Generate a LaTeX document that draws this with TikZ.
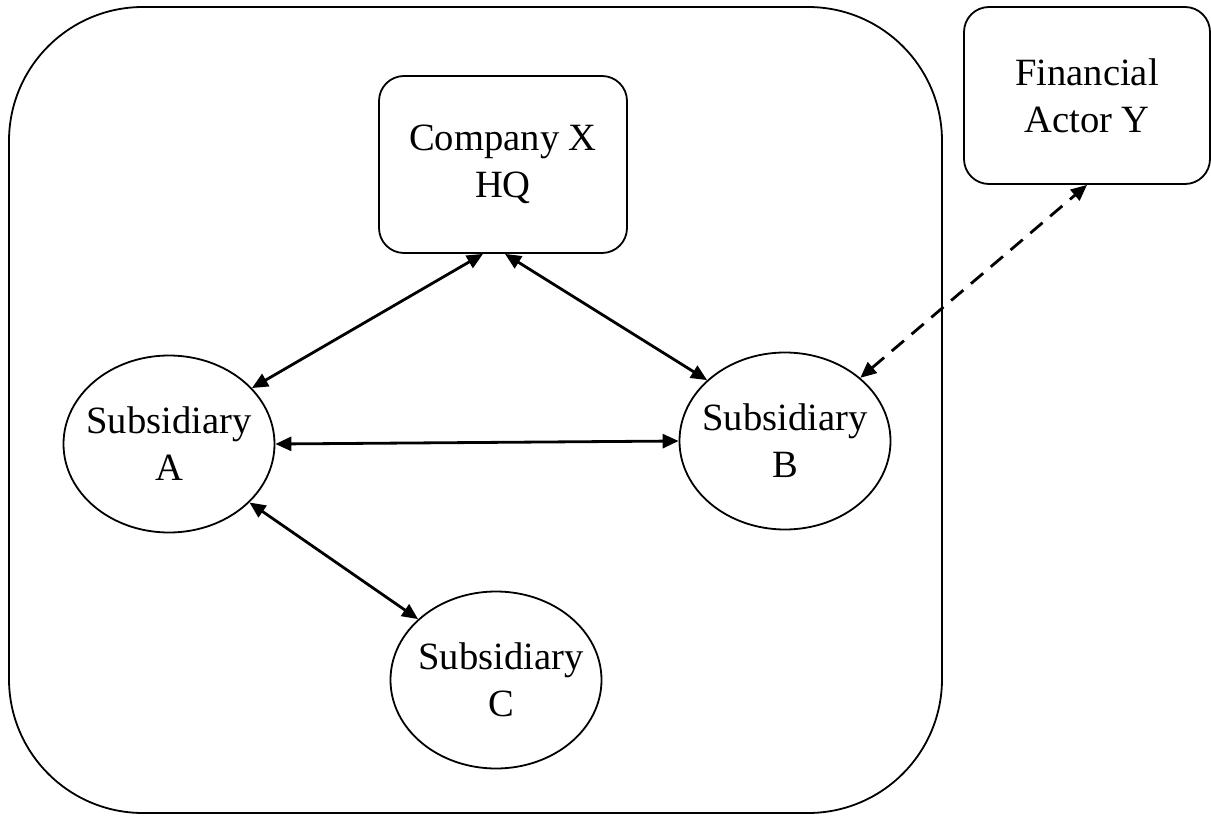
\documentclass[tikz,border=0pt]{standalone}
\usepackage{fontspec}
\setmainfont{Liberation Serif}
\usetikzlibrary{arrows.meta,shapes.geometric}
\begin{document}
\begin{tikzpicture}[x=1pt,y=-1pt,
  txt/.style={font=\fontsize{38.6pt}{47pt}\selectfont, align=center, inner sep=0pt},
  boxnode/.style={draw, line width=1.8pt, rounded corners=25pt, minimum width=246pt, minimum height=177pt, txt},
  ell/.style={draw, ellipse, line width=1.8pt, inner sep=0pt, minimum width=211pt, minimum height=177pt},
  lbl/.style={txt},
  link/.style={line width=2.8pt, {Triangle[length=16pt,width=14pt]}-{Triangle[length=16pt,width=14pt]}},
  dlink/.style={link, dash pattern=on 16pt off 10pt}
]
\useasboundingbox (0,0) rectangle (1211,816);
\draw[line width=1.8pt, rounded corners=134pt] (9,7) rectangle (942,813);
\node[boxnode, minimum width=248pt] (hq) at (503,164.5) {Company X\\HQ};
\node[boxnode] (fy) at (1087,95.5) {Financial\\Actor Y};
\node[ell, label={[lbl]center:Subsidiary\\A}] (A) at (169,444) {};
\node[ell, label={[lbl]center:Subsidiary\\B}] (B) at (785,441) {};
\node[ell, label={[lbl,xshift=5pt]center:Subsidiary\\C}] (C) at (496,680) {};
\draw[link] ([xshift=-20pt]hq.south) -- (A.34);
\draw[link] ([xshift=2pt]hq.south) -- (B.142);
\draw[link] (A.0) -- (B.180);
\draw[link] (A.-36) -- (C.142);
\draw[dlink] (B.40) -- (fy.south);
\end{tikzpicture}
\end{document}
